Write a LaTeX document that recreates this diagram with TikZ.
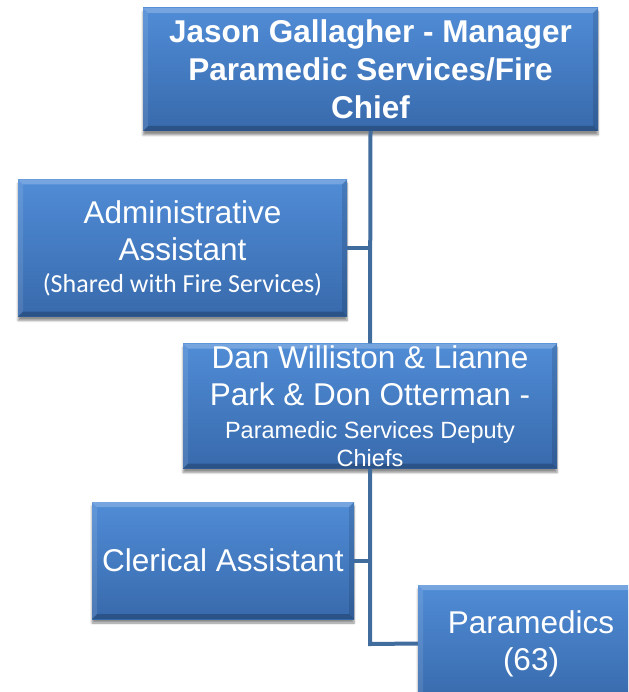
\documentclass[tikz,border=0pt]{standalone}
\usepackage{fontspec}
\setmainfont{Liberation Sans}
\newfontfamily\calfont{Carlito}
\usetikzlibrary{shadows.blur}
\definecolor{linecol}{RGB}{64,108,158}
\definecolor{boxtop}{RGB}{80,140,214}
\definecolor{boxbot}{RGB}{56,106,172}
\tikzset{
  orgbox/.style={rectangle, inner sep=0pt, align=center, text=white,
    top color=boxtop, bottom color=boxbot,
    blur shadow={shadow xshift=0pt, shadow yshift=-4pt, shadow blur steps=6, shadow opacity=45},
    path picture={
      \fill[white,opacity=0.22] (path picture bounding box.north west) -- (path picture bounding box.north east) -- ([xshift=-5pt,yshift=-5pt]path picture bounding box.north east) -- ([xshift=5pt,yshift=-5pt]path picture bounding box.north west) -- cycle;
      \fill[black,opacity=0.22] (path picture bounding box.south west) -- (path picture bounding box.south east) -- ([xshift=-5pt,yshift=5pt]path picture bounding box.south east) -- ([xshift=5pt,yshift=5pt]path picture bounding box.south west) -- cycle;
      \fill[white,opacity=0.10] (path picture bounding box.north west) -- ([xshift=5pt,yshift=-5pt]path picture bounding box.north west) -- ([xshift=5pt,yshift=5pt]path picture bounding box.south west) -- (path picture bounding box.south west) -- cycle;
      \fill[black,opacity=0.12] (path picture bounding box.north east) -- ([xshift=-5pt,yshift=-5pt]path picture bounding box.north east) -- ([xshift=-5pt,yshift=5pt]path picture bounding box.south east) -- (path picture bounding box.south east) -- cycle;
    }},
  bigtext/.style={font=\fontsize{31.5}{37}\selectfont},
  conn/.style={draw=linecol, line width=4pt}
}
\begin{document}
\begin{tikzpicture}[x=1pt,y=-1pt]
\useasboundingbox (0,0) rectangle (628,692);
\clip (0,0) rectangle (628,692);
\node[orgbox, bigtext, font=\bfseries\fontsize{31.5}{38}\selectfont, minimum width=455pt, minimum height=123pt] (top) at (370.5,69.5)
  {Jason Gallagher - Manager\\Paramedic Services/Fire\\Chief};
\node[orgbox, bigtext, minimum width=329pt, minimum height=137pt] (admin) at (182.5,248)
  {Administrative\\Assistant\\[-5pt]{\calfont\fontsize{26}{28}\selectfont (Shared with Fire Services)}};
\node[orgbox, bigtext, minimum width=374pt, minimum height=125pt] (deputy) at (370,406)
  {Dan Williston \& Lianne\\Park \& Don Otterman -\\[-4pt]{\fontsize{23.5}{27.5}\selectfont Paramedic Services Deputy}\\[-9pt]{\fontsize{23.5}{27.5}\selectfont Chiefs}};
\node[orgbox, bigtext, minimum width=262pt, minimum height=117pt] (clerical) at (223,560.5)
  {Clerical Assistant};
\node[orgbox, bigtext, minimum width=226pt, minimum height=117pt] (para) at (531,643.5)
  {Paramedics\\(63)};
\coordinate (bend) at (370,644);
\draw[conn] (top.south) -- (deputy.north);
\draw[conn] (admin.east) -- (admin.east -| top.south);
\draw[conn] (deputy.south) -- (bend) -- (para.west);
\draw[conn] (clerical.east) -- (clerical.east -| deputy.south);
\end{tikzpicture}
\end{document}
